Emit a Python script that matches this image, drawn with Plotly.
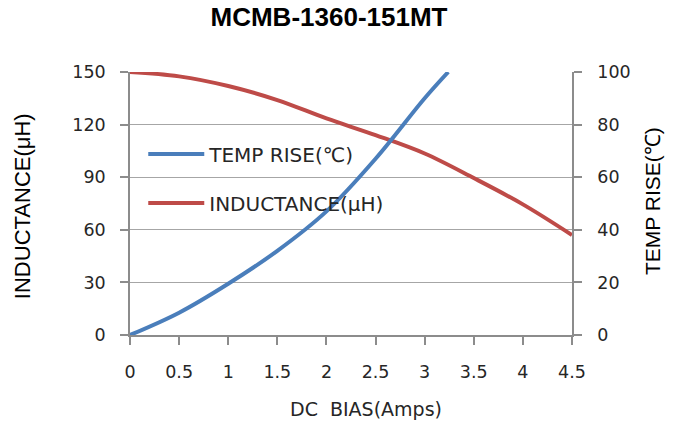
import plotly.graph_objects as go

# DC bias (A)
bias_ind = [0, 0.5, 1.0, 1.5, 2.0, 2.5, 3.0, 3.5, 4.0, 4.5]
inductance = [150, 147.5, 142, 134, 123.5, 114, 103.5, 89.5, 74.5, 57]

bias_temp = [0, 0.5, 1.0, 1.5, 2.0, 2.5, 3.0, 3.24]
temp_rise = [0, 8.5, 19.5, 32, 47, 67, 90, 100]

x_ticks = [0, 0.5, 1, 1.5, 2, 2.5, 3, 3.5, 4, 4.5]
x_tick_text = ["0", "0.5", "1", "1.5", "2", "2.5", "3", "3.5", "4", "4.5"]

BLUE = "#4a7ebb"
RED = "#be4b48"
AX = "#8c8c8c"
TXT = "#262626"
TICKFONT = dict(family="DejaVu Sans", size=17.5, color=TXT)

fig = go.Figure()
fig.add_trace(go.Scatter(
    x=bias_temp, y=temp_rise, name="TEMP RISE(℃)", yaxis="y2",
    mode="lines", line=dict(color=BLUE, width=4, shape="spline"),
    legendgroup="a"))
fig.add_trace(go.Scatter(
    x=bias_ind, y=inductance, name="INDUCTANCE(μH)", yaxis="y",
    mode="lines", line=dict(color=RED, width=4, shape="spline"),
    legendgroup="b"))

fig.update_layout(
    width=677, height=421,
    margin=dict(l=130, r=105, t=72, b=86),
    paper_bgcolor="white", plot_bgcolor="white",
    title=dict(text="<b>MCMB-1360-151MT</b>", x=329 / 677, xanchor="center",
               y=1 - 17 / 421, yanchor="middle",
               font=dict(family="Liberation Sans", size=26, color="black")),
    xaxis=dict(range=[0, 4.5], tickvals=x_ticks, ticktext=x_tick_text,
               showgrid=False, showline=True, linecolor=AX, linewidth=1.5,
               ticks="outside", ticklen=8, tickcolor=AX, tickwidth=1.5,
               ticklabelstandoff=12, tickfont=TICKFONT, zeroline=False),
    yaxis=dict(range=[0, 150], dtick=30, showgrid=True, gridcolor="#a6a6a6",
               gridwidth=1, showline=True, linecolor=AX, linewidth=1.5,
               ticks="outside", ticklen=8, tickcolor=AX, tickwidth=1.5,
               ticklabelstandoff=11, tickfont=TICKFONT, zeroline=False),
    yaxis2=dict(range=[0, 100], dtick=20, overlaying="y", side="right",
                showgrid=False, showline=True, linecolor=AX, linewidth=1.5,
                ticks="outside", ticklen=8, tickcolor=AX, tickwidth=1.5,
                ticklabelstandoff=12, tickfont=TICKFONT, zeroline=False),
    showlegend=True,
    legend=dict(x=0.03, y=0.762, xanchor="left", yanchor="top",
                bgcolor="rgba(0,0,0,0)", tracegroupgap=20, itemwidth=56,
                font=dict(family="DejaVu Sans", size=20, color=TXT)),
    annotations=[
        dict(text="DC\u00a0 BIAS(Amps)", xref="paper", yref="paper",
             x=(366 - 130) / 442, y=(335 - 409) / 263,
             xanchor="center", yanchor="middle", showarrow=False,
             font=dict(family="DejaVu Sans", size=19, color=TXT)),
        dict(text="INDUCTANCE(μH)", xref="paper", yref="paper",
             x=(22 - 130) / 442, y=0.49, xanchor="center", yanchor="middle",
             textangle=-90, showarrow=False,
             font=dict(family="Liberation Sans", size=22, color="black")),
        dict(text="TEMP RISE(℃)", xref="paper", yref="paper",
             x=(652 - 130) / 442, y=(335 - 201) / 263,
             xanchor="center", yanchor="middle",
             textangle=-90, showarrow=False,
             font=dict(family="Liberation Sans", size=21, color="black")),
    ],
)

fig.write_html("out.html")
